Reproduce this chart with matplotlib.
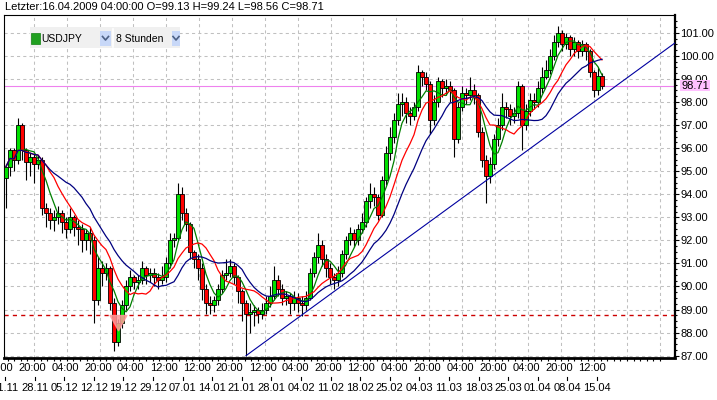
import matplotlib
matplotlib.use('Agg')
import matplotlib.pyplot as plt
import matplotlib.patches as mpatches
import matplotlib.transforms as mtransforms
from matplotlib.path import Path
import pandas as pd

plt.rcParams['font.family'] = ['Liberation Sans', 'DejaVu Sans']

# --- data (USDJPY, 8h candles) ---
symbol = 'USDJPY'
period = '8 Stunden'
last_time = '16.04.2009 04:00:00'

opens = [94.7, 95.2, 95.9, 95.5, 97.0, 95.9, 95.4, 95.6, 95.3, 95.5,
         93.4, 93.2, 92.9, 93.0, 93.2, 92.8, 92.5, 93.0, 92.6, 92.5,
         92.0, 92.3, 92.0, 89.4, 90.8, 90.6, 90.8, 89.3, 87.6, 88.4,
         89.2, 90.0, 90.4, 90.2, 90.3, 90.8, 90.5, 90.6, 90.4, 90.3,
         90.4, 91.0, 92.0, 92.1, 94.0, 93.2, 92.7, 91.5, 91.2, 90.8,
         89.9, 89.3, 89.2, 89.4, 89.9, 90.5, 90.6, 90.9, 90.4, 89.8,
         89.3, 88.8, 88.9, 89.0, 88.8, 89.0, 89.3, 89.6, 90.3, 89.9,
         89.5, 89.6, 89.3, 89.5, 89.3, 89.2, 89.5, 90.6, 91.3, 91.8,
         91.2, 90.8, 90.4, 90.3, 90.6, 91.4, 92.0, 92.3, 92.0, 92.5,
         92.8, 93.7, 94.0, 93.9, 93.1, 94.6, 95.8, 96.5, 97.2, 97.9,
         98.0, 97.5, 97.4, 97.8, 99.3, 99.1, 98.8, 97.2, 98.0, 98.9,
         98.6, 98.7, 98.5, 96.4, 97.8, 98.4, 98.3, 98.5, 98.3, 96.7,
         95.5, 94.8, 95.3, 96.4, 97.0, 97.8, 97.7, 97.4, 97.5, 98.7,
         97.0, 97.6, 98.1, 98.0, 98.6, 99.1, 99.4, 100.0, 100.6, 101.0,
         100.5, 100.8, 100.3, 100.6, 100.2, 100.5, 100.2, 99.3, 98.5, 99.13]
closes = [95.2, 95.9, 95.5, 97.0, 95.9, 95.4, 95.6, 95.3, 95.5, 93.4,
          93.2, 92.9, 93.0, 93.2, 92.8, 92.5, 93.0, 92.6, 92.5, 92.0,
          92.3, 92.0, 89.4, 90.8, 90.6, 90.8, 89.3, 87.6, 88.4, 89.2,
          90.0, 90.4, 90.2, 90.3, 90.8, 90.5, 90.6, 90.4, 90.3, 90.4,
          91.0, 92.0, 92.1, 94.0, 93.2, 92.7, 91.5, 91.2, 90.8, 89.9,
          89.3, 89.2, 89.4, 89.9, 90.5, 90.6, 90.9, 90.4, 89.8, 89.3,
          88.8, 88.9, 89.0, 88.8, 89.0, 89.3, 89.6, 90.3, 89.9, 89.5,
          89.6, 89.3, 89.5, 89.3, 89.2, 89.5, 90.6, 91.3, 91.8, 91.2,
          90.8, 90.4, 90.3, 90.6, 91.4, 92.0, 92.3, 92.0, 92.5, 92.8,
          93.7, 94.0, 93.9, 93.1, 94.6, 95.8, 96.5, 97.2, 97.9, 98.0,
          97.5, 97.4, 97.8, 99.3, 99.1, 98.8, 97.2, 98.0, 98.9, 98.6,
          98.7, 98.5, 96.4, 97.8, 98.4, 98.3, 98.5, 98.3, 96.7, 95.5,
          94.8, 95.3, 96.4, 97.0, 97.8, 97.7, 97.4, 97.5, 98.7, 97.0,
          97.6, 98.1, 98.0, 98.6, 99.1, 99.4, 100.0, 100.6, 101.0, 100.5,
          100.8, 100.3, 100.6, 100.2, 100.5, 100.2, 99.3, 98.5, 99.13, 98.71]
highs = [95.3, 96.0, 96.0, 97.3, 97.1, 96.0, 95.8, 95.8, 95.7, 95.6,
         93.6, 93.4, 93.3, 93.5, 93.3, 93.0, 93.4, 93.1, 92.9, 92.7,
         92.5, 92.6, 92.2, 91.3, 91.1, 91.0, 90.9, 89.5, 88.6, 89.4,
         90.3, 90.7, 90.5, 90.5, 91.1, 90.9, 90.8, 90.8, 90.6, 90.9,
         91.3, 92.3, 92.3, 94.5, 94.3, 93.4, 92.8, 91.6, 91.4, 91.0,
         90.1, 89.6, 89.6, 90.1, 90.7, 91.2, 91.2, 91.0, 90.5, 89.9,
         89.4, 89.3, 89.2, 89.1, 89.3, 89.6, 90.0, 90.9, 90.5, 90.1,
         89.8, 89.7, 89.8, 89.7, 89.6, 89.8, 90.8, 91.5, 92.3, 92.0,
         91.4, 91.0, 90.6, 90.9, 91.6, 92.2, 92.6, 92.5, 92.7, 93.2,
         93.9, 94.5, 94.3, 94.0, 94.8, 96.1, 96.9, 97.5, 98.4, 98.4,
         98.2, 97.8, 98.0, 99.6, 99.4, 99.3, 98.9, 98.3, 99.1, 99.0,
         99.0, 98.9, 98.6, 98.0, 98.7, 98.6, 99.1, 98.8, 98.4, 96.9,
         95.7, 95.6, 96.6, 97.3, 98.4, 98.0, 97.9, 97.8, 98.9, 98.8,
         97.9, 98.4, 98.4, 98.9, 99.5, 99.8, 100.3, 100.9, 101.3, 101.1,
         101.0, 100.9, 100.8, 100.7, 100.7, 100.6, 100.3, 99.4, 99.5, 99.24]
lows = [93.4, 94.8, 95.0, 95.3, 95.5, 94.6, 94.8, 94.5, 95.1, 93.1,
        92.6, 92.5, 92.4, 92.7, 92.3, 92.1, 92.3, 92.2, 91.8, 91.5,
        91.6, 91.4, 88.4, 89.2, 90.0, 90.3, 89.0, 87.2, 87.4, 88.2,
        89.0, 89.8, 89.9, 89.9, 90.1, 90.1, 90.2, 90.0, 89.9, 90.1,
        90.2, 90.8, 91.7, 92.0, 92.9, 92.4, 91.2, 90.8, 90.3, 89.4,
        88.8, 88.8, 88.9, 89.2, 89.7, 90.3, 90.4, 90.1, 89.3, 88.5,
        87.0, 88.0, 88.3, 88.4, 88.6, 88.8, 89.1, 89.4, 89.6, 89.2,
        89.2, 88.8, 89.0, 88.9, 88.7, 89.0, 89.4, 90.4, 91.0, 90.9,
        90.4, 90.1, 89.9, 90.0, 90.4, 91.2, 91.8, 91.7, 91.8, 92.3,
        92.6, 93.4, 93.5, 92.9, 93.0, 94.4, 95.5, 96.2, 97.0, 97.4,
        97.1, 97.0, 97.2, 97.6, 98.7, 98.5, 96.6, 97.0, 97.8, 98.2,
        98.3, 98.0, 95.6, 96.2, 97.6, 97.9, 98.1, 97.9, 96.5, 95.2,
        93.6, 94.5, 95.1, 96.1, 96.8, 97.3, 97.0, 97.1, 97.3, 95.9,
        96.8, 97.4, 97.7, 97.8, 98.4, 99.0, 99.2, 99.8, 100.4, 100.2,
        100.3, 100.0, 100.0, 99.9, 100.0, 99.8, 99.1, 98.2, 98.3, 98.56]

time_labels = ['20:00', '20:00', '04:00', '20:00', '04:00', '12:00', '12:00',
               '20:00', '12:00', '04:00', '20:00', '12:00', '04:00', '20:00',
               '04:00', '20:00', '04:00', '20:00', '12:00']
date_labels = ['21.11', '28.11', '05.12', '12.12', '19.12', '29.12', '07.01',
               '14.01', '21.01', '28.01', '04.02', '11.02', '18.02', '25.02',
               '04.03', '11.03', '18.03', '25.03', '01.04', '08.04', '15.04']

ma_settings = [(5, '#008000'), (10, '#ff0000'), (17, '#000080')]
alert_price = 88.75
alert_bar = 28
trend_start = (60, 87.0)
trend_touch = (147, 98.0)

# --- layout in pixels ---
W, H = 717, 400
AX_L, AX_R, AX_T, AX_B = 4, 675, 15, 358
PX_BAR = 4.0
GRID_PX = 32.95
DATE_PX = 29.6


def bar_at(px):
    return -0.5 + (px - AX_L) / PX_BAR


def fx(px):
    return px / W


def fy(py):
    return 1 - py / H


fig = plt.figure(figsize=(W / 100, H / 100), dpi=100)
fig.patch.set_facecolor('white')
ax = fig.add_axes([fx(AX_L), fy(AX_B), (AX_R - AX_L) / W, (AX_B - AX_T) / H])

n = len(closes)
xs = list(range(n))
ax.set_xlim(bar_at(AX_L), bar_at(AX_R))
ax.set_ylim(86.9, 101.77)

# grid
for k in range(1, 21):
    gx = bar_at(1 + GRID_PX * k)
    ax.axvline(gx, color='#c0c0c0', lw=0.75, dashes=(3, 3), zorder=0)
for p in range(87, 102):
    ax.axhline(p, color='#c0c0c0', lw=0.75, dashes=(3, 3), zorder=0)

# candles
ax.vlines(xs, lows, highs, color='black', lw=0.8, zorder=2)
body_bottom = [min(o, c) for o, c in zip(opens, closes)]
body_height = [abs(c - o) for o, c in zip(opens, closes)]
body_color = ['#00e000' if c >= o else '#ff0000' for o, c in zip(opens, closes)]
ax.bar(xs, body_height, bottom=body_bottom, width=0.8, color=body_color,
       edgecolor='black', linewidth=0.6, zorder=3)

# moving averages
s = pd.Series(closes)
for period_len, col in ma_settings:
    ax.plot(xs, s.rolling(period_len, min_periods=1).mean(), color=col, lw=0.9, zorder=4)

# horizontal levels
ax.axhline(closes[-1], color='#ee82ee', lw=0.8, zorder=1)
ax.axhline(alert_price, color='#cc0000', lw=1.0, dashes=(3, 3), zorder=1)

# alert triangle (top edge sits on the level)
tri = Path([(-0.55, 0), (0.55, 0), (0, -1), (-0.55, 0)],
           [Path.MOVETO, Path.LINETO, Path.LINETO, Path.CLOSEPOLY])
ax.plot([alert_bar], [alert_price], marker=tri, ms=22, color='#ff9a9a',
        markeredgecolor='#ff9a9a', alpha=0.85, zorder=5)

# trend line from its start to the right edge
slope = (trend_touch[1] - trend_start[1]) / (trend_touch[0] - trend_start[0])
x_end = bar_at(AX_R)
ax.plot([trend_start[0], x_end],
        [trend_start[1], trend_start[1] + slope * (x_end - trend_start[0])],
        color='#0000a0', lw=0.8, zorder=6)

# axes styling
for side in ['left', 'top']:
    ax.spines[side].set_linewidth(0.8)
ax.spines['right'].set_linewidth(1.6)
ax.spines['bottom'].set_linewidth(2.0)
ax.yaxis.tick_right()
ax.set_yticks(range(87, 102))
ax.set_yticks([87 + 0.25 * i for i in range(59)], minor=True)
ax.yaxis.set_major_formatter(matplotlib.ticker.FormatStrFormatter('%.2f'))
ax.tick_params(axis='y', which='major', length=3, width=0.8, pad=1, labelsize=8)
ax.tick_params(axis='y', which='minor', length=1.6, width=0.8)
ax.set_xticks([bar_at(1 + GRID_PX * k / 5) for k in range(1, 101)], minor=True)
ax.set_xticks([])
ax.tick_params(axis='x', which='minor', length=2, width=0.8)

# last price tag
ax.text(1.0 + 6 / (AX_R - AX_L), closes[-1], f'{closes[-1]:.2f}',
        transform=mtransforms.blended_transform_factory(ax.transAxes, ax.transData),
        ha='left', va='center', fontsize=8,
        bbox=dict(boxstyle='square,pad=0.08', facecolor='#ffc0ff', edgecolor='none'),
        clip_on=False, zorder=10)

# x labels: time row aligned with grid, date row weekly
bt = mtransforms.blended_transform_factory(ax.transData, fig.transFigure)
for k, lab in enumerate(time_labels):
    ax.text(bar_at(GRID_PX * k - 1), fy(368), lab, transform=bt, ha='center',
            va='center', fontsize=8, clip_on=False)
for k, lab in enumerate(date_labels):
    xb = bar_at(5 + DATE_PX * k)
    ax.text(xb, fy(388), lab, transform=bt, ha='center', va='center',
            fontsize=8, clip_on=False)
    ax.plot([xb, xb], [fy(380), fy(377)], transform=bt, color='black',
            lw=0.8, clip_on=False)

# header
fig.text(fx(5), fy(7.5), f'Letzter:{last_time} O={opens[-1]:.2f} H={highs[-1]:.2f} '
         f'L={lows[-1]:.2f} C={closes[-1]:.2f}', ha='left', va='center', fontsize=8)

# symbol / period selector
fig.patches.append(mpatches.Rectangle((fx(30), fy(48)), fx(150), 21 / H,
                                      transform=fig.transFigure, facecolor='#f0f0f0',
                                      edgecolor='none', zorder=20))
fig.patches.append(mpatches.Rectangle((fx(31), fy(44)), fx(9), 11 / H,
                                      transform=fig.transFigure, facecolor='#20a020',
                                      edgecolor='#108010', lw=0.5, zorder=21))
fig.text(fx(41), fy(38.5), symbol, ha='left', va='center', fontsize=7.5, zorder=22)
fig.text(fx(116), fy(38.5), period, ha='left', va='center', fontsize=7.5, zorder=22)
for bx in (100, 172):
    fig.patches.append(mpatches.Rectangle((fx(bx), fy(46)), fx(11 if bx == 100 else 8), 15 / H,
                                          transform=fig.transFigure, facecolor='#c8d8f8',
                                          edgecolor='none', zorder=21))
    cx = bx + (5.5 if bx == 100 else 4)
    fig.lines.append(plt.Line2D([fx(cx - 3), fx(cx), fx(cx + 3)], [fy(36.5), fy(40), fy(36.5)],
                                transform=fig.transFigure, color='#4d6185', lw=1.2, zorder=22))
fig.lines.append(plt.Line2D([fx(113), fx(113)], [fy(29), fy(47)], transform=fig.transFigure,
                            color='white', lw=1.2, zorder=22))

fig.savefig('out.png', dpi=100)
